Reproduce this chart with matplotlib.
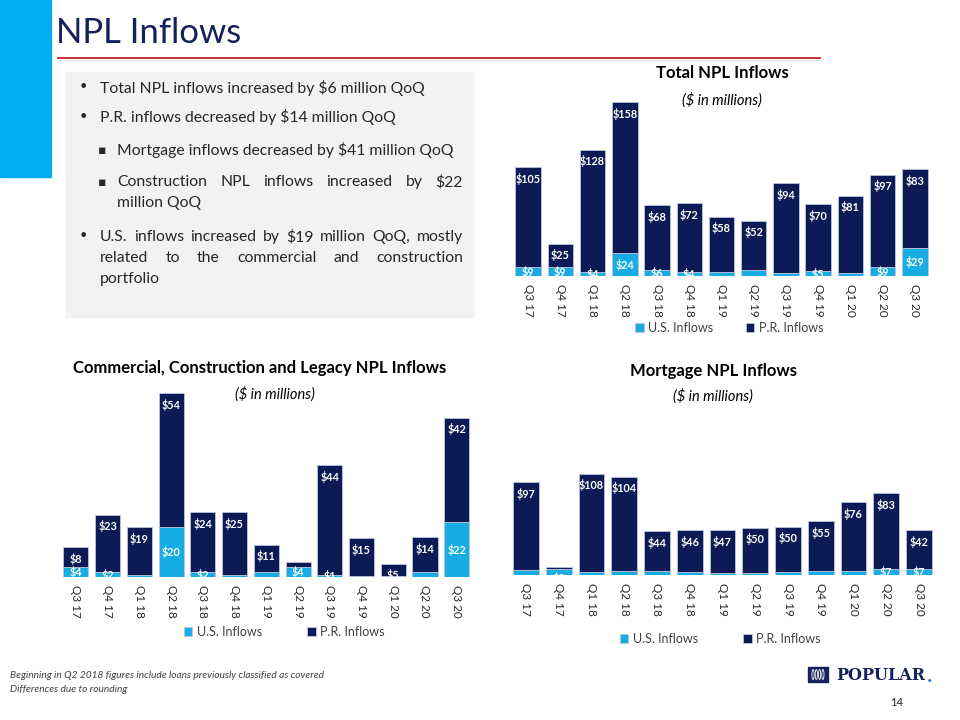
import numpy as np
import matplotlib
matplotlib.use("Agg")
import matplotlib.pyplot as plt
from matplotlib.patches import Rectangle, Ellipse
from matplotlib.lines import Line2D

plt.rcParams['font.family'] = ['Lato', 'DejaVu Sans']

# ---------------- data ----------------
quarters = ['Q3 17', 'Q4 17', 'Q1 18', 'Q2 18', 'Q3 18', 'Q4 18', 'Q1 19',
            'Q2 19', 'Q3 19', 'Q4 19', 'Q1 20', 'Q2 20', 'Q3 20']

total_us = [9, 9, 4, 24, 6, 4, 4, 6, 3, 5, 3, 9, 29]
total_pr = [105, 25, 128, 158, 68, 72, 58, 52, 94, 70, 81, 97, 83]
total_us_show = [1, 1, 1, 1, 1, 1, 0, 0, 0, 1, 0, 1, 1]
total_pr_show = [1, 1, 1, 1, 1, 1, 1, 1, 1, 1, 1, 1, 1]

comm_us = [4, 2, 1, 20, 2, 1, 2, 4, 1, 0.5, 0.3, 2, 22]
comm_pr = [8, 23, 19, 54, 24, 25, 11, 2, 44, 15, 5, 14, 42]
comm_us_show = [1, 1, 0, 1, 1, 0, 0, 1, 1, 0, 0, 0, 1]
comm_pr_show = [1, 1, 1, 1, 1, 1, 1, 0, 1, 1, 1, 1, 1]

mort_us = [5, 7, 3, 4, 4, 3, 2, 2, 3, 4, 4, 7, 7]
mort_pr = [97, 2, 108, 104, 44, 46, 47, 50, 50, 55, 76, 83, 42]
mort_us_show = [0, 0, 0, 0, 0, 0, 0, 0, 0, 0, 0, 1, 1]
mort_pr_show = [1, 1, 1, 1, 1, 1, 1, 1, 1, 1, 1, 1, 1]

series_names = ['U.S. Inflows', 'P.R. Inflows']

bullets = [
    ("•", 79, 100, 88, ["Total NPL inflows increased by $6 million QoQ"], False),
    ("•", 79, 100, 117, ["P.R. inflows decreased by $14 million QoQ"], False),
    ("▪", 98, 117, 150, ["Mortgage inflows decreased by $41 million QoQ"], False),
    ("▪", 98, 117, 182, ["Construction NPL inflows increased by $22", "million QoQ"], True),
    ("•", 79, 100, 237, ["U.S. inflows increased by $19 million QoQ, mostly",
                         "related to the commercial and construction", "portfolio"], True),
]

# ---------------- style ----------------
W, H = 960, 720
NAVY = '#0C1B55'
LIGHT = '#17ACE3'
EDGE = '#B9C6DE'
TXT = '#262626'
GREY = '#404040'

fig = plt.figure(figsize=(W / 100, H / 100), dpi=100)
renderer = fig.canvas.get_renderer()


def fx(x):
    return x / W


def fy(y):
    return 1 - y / H


def rect_px(x0, y0, x1, y1):
    return [x0 / W, 1 - y1 / H, (x1 - x0) / W, (y1 - y0) / H]


# background decorations
fig.add_artist(Rectangle((0, fy(177)), fx(51), 177 / H, transform=fig.transFigure,
                         color='#00AEEF', zorder=0))
fig.add_artist(Rectangle((fx(66), fy(317)), fx(473) - fx(66), (317 - 72) / H,
                         transform=fig.transFigure, color='#F2F2F2', zorder=0))
fig.add_artist(Line2D([fx(58), fx(820)], [fy(58), fy(58)], transform=fig.transFigure,
                      color='#C3202F', lw=1.3))
fig.add_artist(Line2D([fx(58), fx(820)], [fy(59.6), fy(59.6)], transform=fig.transFigure,
                      color='#D9D9D9', lw=0.6))

fig.text(fx(56), fy(43), 'NPL Inflows', fontsize=25, fontweight='normal',
         color='#14215A', ha='left', va='baseline')

# bullet text block
TSIZE = 11.3
LINE = 21


def put_line(text, x0, x1, y, justify):
    words = text.split(' ')
    if not justify or len(words) < 2:
        fig.text(fx(x0), fy(y), text, fontsize=TSIZE, color=TXT, ha='left', va='center')
        return
    objs = [fig.text(0, fy(y), w, fontsize=TSIZE, color=TXT, ha='left', va='center')
            for w in words]
    widths = [o.get_window_extent(renderer).width for o in objs]
    gap = (x1 - x0 - sum(widths)) / (len(words) - 1)
    x = x0
    for o, w in zip(objs, widths):
        o.set_x(fx(x))
        x += w + gap


for marker, mx, tx, y, lines, just in bullets:
    fig.text(fx(mx), fy(y), marker, fontsize=TSIZE if marker == '•' else 9, color=TXT,
             ha='left', va='center', family=['DejaVu Sans'])
    for k, ln in enumerate(lines):
        last = k == len(lines) - 1
        put_line(ln, tx, 463, y + k * LINE, just and not last)


# ---------------- charts ----------------
def stacked(rect, us, pr, us_show, pr_show, ymax, width):
    ax = fig.add_axes(rect)
    x = np.arange(len(quarters))
    b1 = ax.bar(x, us, width, color=LIGHT, edgecolor=EDGE, linewidth=0.6,
                label=series_names[0], zorder=2)
    b2 = ax.bar(x, pr, width, bottom=us, color=NAVY, edgecolor=EDGE, linewidth=0.6,
                label=series_names[1], zorder=2)
    for i in range(len(x)):
        if us_show[i]:
            ax.text(x[i], us[i] / 2, f'${us[i]:.0f}', ha='center', va='center',
                    color='white', fontsize=7.8, fontweight='bold', zorder=3, clip_on=False)
        if pr_show[i]:
            ax.annotate(f'${pr[i]:.0f}', (x[i], us[i] + pr[i]), xytext=(0, -4),
                        textcoords='offset points', ha='center', va='top',
                        color='white', fontsize=7.8, fontweight='bold', zorder=3)
    ax.set_xlim(-0.5, len(x) - 0.5)
    ax.set_ylim(0, ymax)
    ax.set_xticks(x)
    ax.set_xticklabels(quarters, rotation=270, fontsize=8.5, color=TXT)
    ax.tick_params(axis='x', length=0, pad=6)
    ax.set_yticks([])
    for s in ax.spines.values():
        s.set_visible(False)
    ax.patch.set_alpha(0)
    return ax, [b1, b2]


def legend(handles, cx, cy, colsp):
    fig.legend(handles, series_names, loc='center', bbox_to_anchor=(fx(cx), fy(cy)),
               ncol=2, frameon=False, fontsize=9, handlelength=0.7, handleheight=0.7,
               handletextpad=0.35, columnspacing=colsp, labelcolor=GREY)


# top right: total
ax1, h1 = stacked(rect_px(512, 94.4, 931, 276), total_us, total_pr,
                  total_us_show, total_pr_show, 190, 0.79)
legend(h1, 729, 328, 2.6)
fig.text(fx(722), fy(73), 'Total NPL Inflows', fontsize=12, fontweight='bold',
         color='#000000', ha='center', va='center')
fig.text(fx(722), fy(100), '($ in millions)', fontsize=10.5, style='italic',
         color='#000000', ha='center', va='center')

# bottom left: commercial
ax2, h2 = stacked(rect_px(60, 388, 472.6, 577), comm_us, comm_pr,
                  comm_us_show, comm_pr_show, 76, 0.79)
legend(h2, 284, 632, 3.6)
fig.text(fx(260), fy(368), 'Commercial, Construction and Legacy NPL Inflows', fontsize=12,
         fontweight='bold', color='#000000', ha='center', va='center')
fig.text(fx(275), fy(394), '($ in millions)', fontsize=10.5, style='italic',
         color='#000000', ha='center', va='center')

# bottom right: mortgage
ax3, h3 = stacked(rect_px(509.6, 470.3, 935.4, 575), mort_us, mort_pr,
                  mort_us_show, mort_pr_show, 115, 0.79)
legend(h3, 720, 639, 3.6)
fig.text(fx(713), fy(371), 'Mortgage NPL Inflows', fontsize=12, fontweight='bold',
         color='#000000', ha='center', va='center')
fig.text(fx(713), fy(396), '($ in millions)', fontsize=10.5, style='italic',
         color='#000000', ha='center', va='center')

# footnotes
fig.text(fx(10), fy(676), 'Beginning in Q2 2018 figures include loans previously classified as covered',
         fontsize=7.3, style='italic', color=GREY, ha='left', va='center')
fig.text(fx(10), fy(689), 'Differences due to rounding',
         fontsize=7.3, style='italic', color=GREY, ha='left', va='center')

# page number
fig.text(fx(897), fy(702), '14', fontsize=8, color=TXT, ha='center', va='center')

# logo
fig.add_artist(Rectangle((fx(808), fy(682)), 20 / W, 15 / H, transform=fig.transFigure,
                         color='#14215A'))
for k in range(4):
    fig.add_artist(Ellipse((fx(813 + k * 3.3), fy(674.5)), 2.2 / W, 10 / H,
                           transform=fig.transFigure, facecolor='none',
                           edgecolor='white', lw=0.6))
fig.text(fx(836), fy(675), 'POPULAR', fontsize=11.5, fontweight='bold', color='#14215A',
         ha='left', va='center', family=['DejaVu Serif'])
fig.text(fx(927), fy(678), '.', fontsize=11.5, fontweight='bold', color='#2F6DB5',
         ha='left', va='center', family=['DejaVu Serif'])

fig.savefig('out.png', dpi=100)
